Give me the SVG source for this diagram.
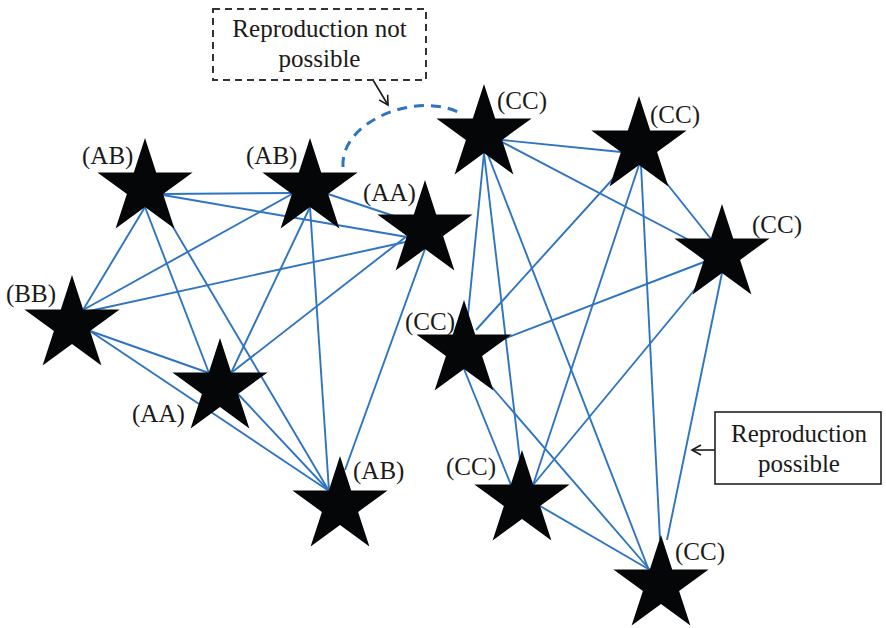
<svg xmlns="http://www.w3.org/2000/svg" width="886" height="628" viewBox="0 0 886 628">
<style>
.e{stroke:#2f74c0;stroke-width:1.9;fill:none}
.lbl{font-family:"Liberation Serif","Times New Roman",serif;font-size:25px;fill:#1a1a1a}
.box{font-family:"Liberation Serif","Times New Roman",serif;font-size:25px;fill:#1a1a1a;text-anchor:middle}
.star{fill:#050608}
</style>
<defs>
<path id="star" d="M0,-50 L11.2,-15.4 L47.6,-15.5 L18.1,5.9 L29.4,40.5 L0,19 L-29.4,40.5 L-18.1,5.9 L-47.6,-15.5 L-11.2,-15.4 Z"/>
<marker id="open" markerWidth="12" markerHeight="12" refX="10" refY="6" orient="auto" markerUnits="userSpaceOnUse">
<path d="M1,1 L10,6 L1,11" fill="none" stroke="#1a1a1a" stroke-width="1.6"/>
</marker>
</defs>
<rect width="886" height="628" fill="#fff"/>
<g id="connectors">
<line class="e" x1="163" y1="194" x2="292" y2="193"/>
<line class="e" x1="163" y1="195" x2="407" y2="237"/>
<line class="e" x1="145" y1="207" x2="83" y2="310"/>
<line class="e" x1="145" y1="207" x2="209" y2="373"/>
<line class="e" x1="160" y1="205" x2="329" y2="491"/>
<line class="e" x1="292" y1="194" x2="83" y2="310"/>
<line class="e" x1="328" y1="194" x2="400" y2="218"/>
<line class="e" x1="310" y1="207" x2="231" y2="373"/>
<line class="e" x1="310" y1="207" x2="329" y2="491"/>
<line class="e" x1="410" y1="241" x2="85" y2="312"/>
<line class="e" x1="407" y1="236" x2="231" y2="373"/>
<line class="e" x1="425" y1="249" x2="345" y2="470"/>
<line class="e" x1="90" y1="331" x2="209" y2="373"/>
<line class="e" x1="90" y1="331" x2="329" y2="491"/>
<line class="e" x1="238" y1="394" x2="329" y2="491"/>
<line class="e" x1="502" y1="140" x2="621" y2="152"/>
<line class="e" x1="502" y1="142" x2="708" y2="250"/>
<line class="e" x1="484" y1="153" x2="466" y2="335"/>
<line class="e" x1="484" y1="153" x2="520" y2="460"/>
<line class="e" x1="488" y1="155" x2="648" y2="568"/>
<line class="e" x1="630" y1="160" x2="476" y2="330"/>
<line class="e" x1="639" y1="165" x2="533" y2="485"/>
<line class="e" x1="641" y1="165" x2="660" y2="540"/>
<line class="e" x1="660" y1="175" x2="711" y2="239"/>
<line class="e" x1="704" y1="262" x2="480" y2="348"/>
<line class="e" x1="706" y1="276" x2="533" y2="485"/>
<line class="e" x1="722" y1="273" x2="667" y2="540"/>
<line class="e" x1="464" y1="369" x2="511" y2="485"/>
<line class="e" x1="490" y1="385" x2="650" y2="570"/>
<line class="e" x1="540" y1="506" x2="650" y2="570"/>
<path d="M343,167 C340,120 420,90 462,114" fill="none" stroke="#2f74c0" stroke-width="3" stroke-dasharray="10,7"/>
<line x1="373" y1="80" x2="388" y2="105" stroke="#1a1a1a" stroke-width="1.6" marker-end="url(#open)"/>
<line x1="715" y1="450" x2="692" y2="450" stroke="#1a1a1a" stroke-width="1.6" marker-end="url(#open)"/>
</g>
<g id="s1"><use href="#star" class="star" transform="translate(145,188)"/><text class="lbl" x="82" y="164">(AB)</text></g>
<g id="s2"><use href="#star" class="star" transform="translate(310,188)"/><text class="lbl" x="246" y="164">(AB)</text></g>
<g id="s3"><use href="#star" class="star" transform="translate(425,230)"/><text class="lbl" x="363" y="201">(AA)</text></g>
<g id="s4"><use href="#star" class="star" transform="translate(72,325)"/><text class="lbl" x="6" y="302">(BB)</text></g>
<g id="s5"><use href="#star" class="star" transform="translate(220,388)"/><text class="lbl" x="132" y="422">(AA)</text></g>
<g id="s6"><use href="#star" class="star" transform="translate(340,506)"/><text class="lbl" x="353" y="479">(AB)</text></g>
<g id="s7"><use href="#star" class="star" transform="translate(484,134)"/><text class="lbl" x="497" y="109">(CC)</text></g>
<g id="s8"><use href="#star" class="star" transform="translate(639,146)"/><text class="lbl" x="650" y="123">(CC)</text></g>
<g id="s9"><use href="#star" class="star" transform="translate(722,254)"/><text class="lbl" x="752" y="233">(CC)</text></g>
<g id="s10"><use href="#star" class="star" transform="translate(464,350)"/><text class="lbl" x="405" y="330">(CC)</text></g>
<g id="s11"><use href="#star" class="star" transform="translate(522,500)"/><text class="lbl" x="446" y="475">(CC)</text></g>
<g id="s12"><use href="#star" class="star" transform="translate(661,585)"/><text class="lbl" x="675" y="560">(CC)</text></g>
<g id="note-not-possible">
<rect x="213" y="9" width="213" height="71" fill="#fff" stroke="#333" stroke-width="2" stroke-dasharray="7,5"/>
<text class="box" x="319.5" y="37">Reproduction not</text>
<text class="box" x="319.5" y="67">possible</text>
</g>
<g id="note-possible">
<rect x="715" y="412" width="166" height="72" fill="#fff" stroke="#222" stroke-width="1.6"/>
<text class="box" x="799" y="442">Reproduction</text>
<text class="box" x="799" y="472">possible</text>
</g>
</svg>
